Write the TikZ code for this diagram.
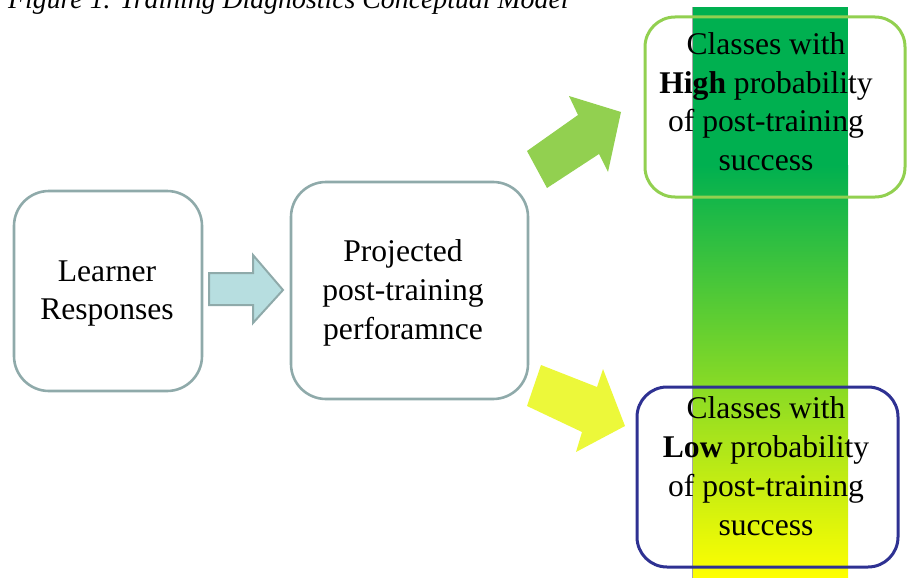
\documentclass[tikz,border=0pt]{standalone}
\usepackage{fontspec}
\setmainfont{Liberation Serif}
\definecolor{tealgray}{RGB}{143,170,170}
\definecolor{lightteal}{RGB}{183,222,224}
\definecolor{lgreen}{RGB}{146,208,80}
\definecolor{dblue}{RGB}{46,49,146}
\definecolor{bargreen}{RGB}{0,176,80}
\definecolor{baryellow}{RGB}{255,255,0}
\definecolor{yarrow}{RGB}{236,248,58}
\begin{document}
\begin{tikzpicture}[x=1pt,y=-1pt,
  box/.style={draw, rectangle, rounded corners=#1, inner sep=0pt},
  lbl/.style={anchor=base, inner sep=0pt},
  txt/.style={font=\fontsize{31.6}{#1}\selectfont},
  blockarrow/.style={line width=2pt, line join=miter}]
\useasboundingbox (0,0) rectangle (910,578);
% caption
\node[anchor=base west, inner sep=0pt, font=\fontsize{27.8}{30}\selectfont\itshape] (cap) at (8,9) {Figure 1. Training Diagnostics Conceptual Model};
% gradient bar
\fill[bargreen] (692,7) rectangle (848,165);
\shade[top color=bargreen, bottom color=baryellow] (692,165) rectangle (848,578);
\draw[gray!70, line width=1pt] (692,7) -- (692,578);
% boxes
\node[box=35, draw=tealgray, line width=2.6pt, minimum width=188, minimum height=200] (learner) at (108,291) {};
\node[box=35, draw=tealgray, line width=2.6pt, minimum width=237, minimum height=217] (proj) at (409.5,290.5) {};
\node[box=30, draw=lgreen, line width=3pt, minimum width=260, minimum height=180] (high) at (775,107) {};
\node[box=30, draw=dblue, line width=3pt, minimum width=261, minimum height=180] (low) at (767.5,477) {};
% texts
\node[lbl, txt=38] (tlearner) at (107,281) {\begin{tabular}[t]{@{}c@{}}Learner\\Responses\end{tabular}};
\node[lbl, txt=39] (tproj) at (403,261) {\begin{tabular}[t]{@{}c@{}}Projected\\post-training\\perforamnce\end{tabular}};
\node[lbl, txt=38.5] (thigh) at (766,55) {\begin{tabular}[t]{@{}c@{}}Classes with\\\textbf{High} probability\\of post-training\\success\end{tabular}};
\node[lbl, txt=39] (tlow) at (766,418) {\begin{tabular}[t]{@{}c@{}}Classes with\\\textbf{Low} probability\\of post-training\\success\end{tabular}};
% block arrows
\draw[blockarrow, draw=tealgray, fill=lightteal] (209,273) -- (253,273) -- (253,255) -- (283,290) -- (253,323) -- (253,305) -- (209,305) -- cycle;
\fill[lgreen] (527,151) -- (578,115) -- (569,96) -- (621,112) -- (608,172) -- (599,154) -- (547,188) -- cycle;
\fill[yarrow] (541,365) -- (597,387) -- (603,369) -- (625,426) -- (576,452) -- (582,432) -- (527,406) -- cycle;
\end{tikzpicture}
\end{document}
